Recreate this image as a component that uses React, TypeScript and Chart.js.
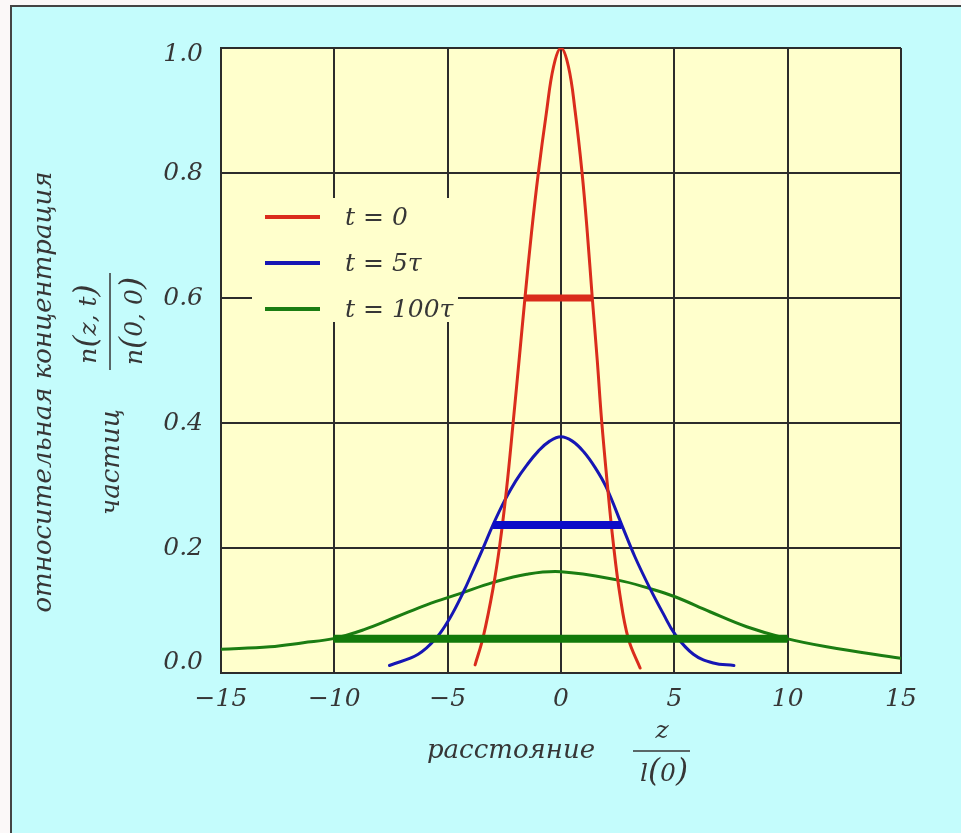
import React, { useEffect, useRef } from 'react';
import { Chart, registerables } from 'chart.js';

Chart.register(...registerables);

// ---------------- data ----------------
const seriesLabels = ['t = 0', 't = 5τ', 't = 100τ'];

const xTickLabels = ['−15', '−10', '−5', '0', '5', '10', '15'];
const yTickLabels = ['0.0', '0.2', '0.4', '0.6', '0.8', '1.0'];

// t = 0
const redX = [-3.79, -3.43, -3.0, -2.7, -2.4, -2.1, -1.85, -1.59, -1.3, -1.0, -0.65, -0.33, 0, 0.33, 0.62, 0.93, 1.16, 1.38, 1.6, 1.79, 2.05, 2.3, 2.6, 2.97, 3.49];
const redY = [0.013, 0.058, 0.135, 0.205, 0.295, 0.405, 0.5, 0.6, 0.705, 0.8, 0.895, 0.97, 1.0, 0.97, 0.9, 0.8, 0.705, 0.6, 0.5, 0.405, 0.3, 0.21, 0.125, 0.055, 0.008];

// t = 5τ
const blueX = [-7.57, -6.3, -5.5, -4.9, -4.3, -3.9, -3.47, -3.0, -2.5, -2.0, -1.5, -1.0, -0.5, 0, 0.5, 1.0, 1.5, 2.0, 2.68, 3.26, 3.93, 4.51, 5.03, 5.84, 6.72, 7.63];
const blueY = [0.012, 0.03, 0.056, 0.088, 0.13, 0.162, 0.197, 0.237, 0.275, 0.307, 0.333, 0.355, 0.371, 0.378, 0.371, 0.354, 0.329, 0.297, 0.237, 0.186, 0.135, 0.095, 0.062, 0.03, 0.016, 0.012];

// t = 100τ
const greenX = [-15, -12.84, -11.37, -10.04, -8.72, -7.25, -5.93, -4.46, -2.99, -1.51, 0, 2.46, 3.93, 5.03, 6.57, 8.19, 9.96, 11.72, 15];
const greenY = [0.038, 0.042, 0.0485, 0.055, 0.069, 0.09, 0.109, 0.127, 0.145, 0.158, 0.162, 0.149, 0.135, 0.122, 0.098, 0.074, 0.055, 0.042, 0.0235];

// width markers (thick horizontal bars)
const redBarX = [-1.59, 1.38];
const redBarY = [0.6, 0.6];
const blueBarX = [-3.0, 2.68];
const blueBarY = [0.237, 0.237];
const greenBarX = [-10.04, 10.0];
const greenBarY = [0.055, 0.055];

// ---------------- styles ----------------
const FAMILY = '"DejaVu Serif", serif';
const TEXT = '#363636';
const GRID = '#2c2c2c';
const PLOT_BG = '#FFFFCC';
const PAGE_BG = '#C4FCFC';
const RED = '#da2c1c';
const BLUE = '#1616b4';
const GREEN = '#1b7d12';

const pts = (xs: number[], ys: number[]) => xs.map((x, i) => ({ x, y: ys[i] }));

function drawRuns(ctx: CanvasRenderingContext2D, runs: [string, number][], cx: number, by: number) {
  let total = 0;
  const widths = runs.map(([t, s]) => {
    ctx.font = `italic ${s}px ${FAMILY}`;
    const w = ctx.measureText(t).width;
    total += w;
    return w;
  });
  let x = cx - total / 2;
  ctx.textAlign = 'left';
  ctx.textBaseline = 'alphabetic';
  runs.forEach(([t, s], i) => {
    ctx.font = `italic ${s}px ${FAMILY}`;
    ctx.fillText(t, x, by);
    x += widths[i];
  });
}

function rot(ctx: CanvasRenderingContext2D, x: number, y: number, fn: () => void) {
  ctx.save();
  ctx.translate(x, y);
  ctx.rotate(-Math.PI / 2);
  fn();
  ctx.restore();
}

const decor = {
  id: 'decor',
  beforeDraw(chart: any) {
    const { ctx, chartArea: a, width, height } = chart;
    ctx.save();
    ctx.fillStyle = '#fbf8f8';
    ctx.fillRect(0, 0, width, height);
    ctx.fillStyle = PAGE_BG;
    ctx.fillRect(11, 6, width, height);
    ctx.strokeStyle = '#444';
    ctx.lineWidth = 2;
    ctx.beginPath();
    ctx.moveTo(11, height);
    ctx.lineTo(11, 6);
    ctx.lineTo(width, 6);
    ctx.stroke();
    ctx.fillStyle = PLOT_BG;
    ctx.fillRect(a.left, a.top, a.right - a.left, a.bottom - a.top);
    ctx.restore();
  },
  afterDatasetsDraw(chart: any) {
    const { ctx, chartArea: a } = chart;
    ctx.save();
    // legend box
    const lx = a.left + 31;
    const ly = a.top + 150;
    ctx.fillStyle = PLOT_BG;
    ctx.fillRect(lx, ly, 206, 124);
    const colors = [RED, BLUE, GREEN];
    for (let i = 0; i < 3; i++) {
      const y = a.top + 169 + i * 46;
      ctx.strokeStyle = colors[i];
      ctx.lineWidth = 4;
      ctx.beginPath();
      ctx.moveTo(a.left + 44, y);
      ctx.lineTo(a.left + 99, y);
      ctx.stroke();
      ctx.fillStyle = TEXT;
      ctx.font = `italic 25px ${FAMILY}`;
      ctx.textAlign = 'left';
      ctx.textBaseline = 'middle';
      ctx.fillText(chart.data.datasets[i].label, a.left + 124, y + 1);
    }
    ctx.restore();
  },
  afterDraw(chart: any) {
    const { ctx } = chart;
    ctx.save();
    ctx.fillStyle = TEXT;
    ctx.strokeStyle = TEXT;
    // x-axis title
    ctx.font = `italic 26px ${FAMILY}`;
    ctx.textAlign = 'center';
    ctx.textBaseline = 'alphabetic';
    ctx.fillText('расстояние', 511, 758);
    drawRuns(ctx, [['z', 25]], 662, 738);
    ctx.lineWidth = 1.5;
    ctx.beginPath();
    ctx.moveTo(633, 751);
    ctx.lineTo(690, 751);
    ctx.stroke();
    drawRuns(ctx, [['l', 25], ['(', 31], ['0', 25], [')', 31]], 664, 781);

    // y-axis title (rotated)
    rot(ctx, 51, 392, () => {
      ctx.font = `italic 26px ${FAMILY}`;
      ctx.textAlign = 'center';
      ctx.textBaseline = 'alphabetic';
      ctx.fillText('относительная концентрация', 0, 0);
    });
    rot(ctx, 119, 462, () => {
      ctx.font = `italic 26px ${FAMILY}`;
      ctx.textAlign = 'center';
      ctx.textBaseline = 'alphabetic';
      ctx.fillText('частиц', 0, 0);
    });
    rot(ctx, 96, 324, () => {
      drawRuns(ctx, [['n', 25], ['(', 31], ['z, t', 25], [')', 31]], 0, 0);
    });
    rot(ctx, 142, 321, () => {
      drawRuns(ctx, [['n', 25], ['(', 31], ['0, 0', 25], [')', 31]], 0, 0);
    });
    ctx.lineWidth = 1.5;
    ctx.beginPath();
    ctx.moveTo(110, 273);
    ctx.lineTo(110, 370);
    ctx.stroke();
    ctx.restore();
  },
};

export default function App() {
  const ref = useRef<HTMLCanvasElement | null>(null);

  useEffect(() => {
    document.body.style.margin = '0';
    const canvas = ref.current;
    if (!canvas) return;
    const tickFont = { family: FAMILY, size: 25, style: 'italic' as const };
    const curve = { borderWidth: 3, tension: 0.4, borderCapStyle: 'round' };
    const bar = { tension: 0, borderCapStyle: 'butt' };
    const chart = new Chart(canvas, {
      type: 'line',
      data: {
        datasets: [
          { label: seriesLabels[0], data: pts(redX, redY), borderColor: RED, order: 1, ...curve },
          { label: seriesLabels[1], data: pts(blueX, blueY), borderColor: BLUE, order: 2, ...curve },
          { label: seriesLabels[2], data: pts(greenX, greenY), borderColor: GREEN, order: 3, ...curve },
          { label: 'w0', data: pts(redBarX, redBarY), borderColor: RED, borderWidth: 7, order: 0, ...bar },
          { label: 'w5', data: pts(blueBarX, blueBarY), borderColor: '#0c0cc8', borderWidth: 8, order: 0, ...bar },
          { label: 'w100', data: pts(greenBarX, greenBarY), borderColor: '#127a0a', borderWidth: 8, order: 0, ...bar },
        ],
      },
      options: {
        animation: false,
        responsive: false,
        maintainAspectRatio: false,
        layout: { padding: { top: 48, right: 60, left: 0, bottom: 0 } },
        elements: {
          point: { radius: 0, hoverRadius: 0 },
          line: { fill: false },
        },
        plugins: { legend: { display: false }, tooltip: { enabled: false } },
        events: [],
        scales: {
          x: {
            type: 'linear',
            min: -15,
            max: 15,
            ticks: {
              stepSize: 5,
              padding: 11,
              color: TEXT,
              font: tickFont,
              maxRotation: 0,
              callback: (_v: any, i: number) => xTickLabels[i],
            },
            grid: { color: GRID, lineWidth: 2, drawTicks: false },
            border: { color: GRID, width: 2 },
            afterFit: (s: any) => { s.height = 160; },
          },
          y: {
            type: 'linear',
            min: 0,
            max: 1,
            ticks: {
              stepSize: 0.2,
              padding: 18,
              color: TEXT,
              font: (c: any) => ({
                ...tickFont,
                lineHeight: c.index === 0 ? '21px' : c.index === 5 ? '12px' : 1.2,
              }),
              callback: (_v: any, i: number) =>
                i === 0 ? [yTickLabels[i], ''] : i === yTickLabels.length - 1 ? ['', yTickLabels[i]] : yTickLabels[i],
            },
            grid: { color: GRID, lineWidth: 2, drawTicks: false },
            border: { color: GRID, width: 2 },
            afterFit: (s: any) => { s.width = 221; },
          },
        },
      } as any,
      plugins: [decor],
    });
    return () => chart.destroy();
  }, []);

  return <canvas ref={ref} width={961} height={833} style={{ display: 'block' }} />;
}
